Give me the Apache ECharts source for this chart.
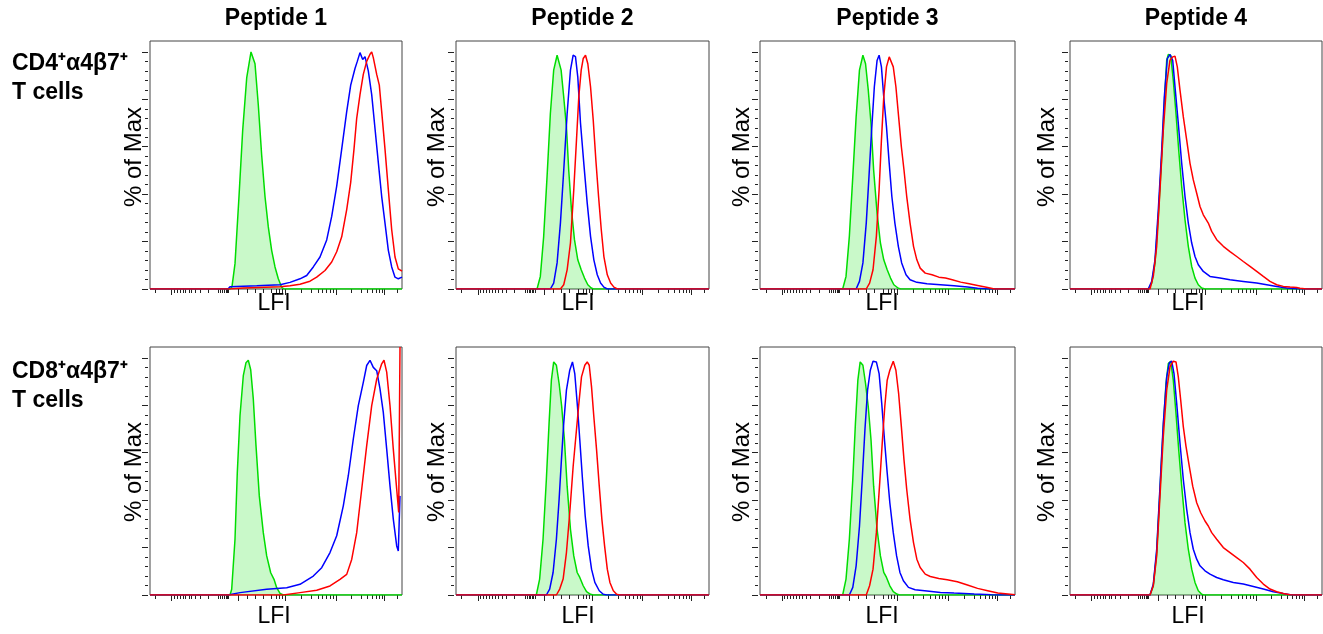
<!DOCTYPE html>
<html>
<head>
<meta charset="utf-8">
<title>Peptide histograms</title>
<script src="https://cdn.jsdelivr.net/npm/echarts@6/dist/echarts.min.js"></script>
<style>
  html, body { margin: 0; padding: 0; background: #fff; }
  #chart { width: 1323px; height: 634px; }
</style>
</head>
<body>
<div id="chart"></div>
<script>
// labels
const peptides = ['Peptide 1', 'Peptide 2', 'Peptide 3', 'Peptide 4']
const rowNames = [['CD4⁺α4β7⁺', 'T cells'], ['CD8⁺α4β7⁺', 'T cells']]
const yName = '% of Max'
const xName = 'LFI'

// axis ticks (x in display channels 0..252, y in % of max)
const xTicksMajor = [21.7, 88, 135.7, 186, 234.3]
const xTicksMinor = [5.7, 24.3, 27.3, 30.3, 33, 35.7, 39, 41.7, 45.7, 50, 58.3, 68.7, 70.7, 72.7,
  74.3, 76, 77.3, 78.7, 97.3, 105, 113.3, 121.7, 126.7, 129.3, 132.3, 151.7, 161.7, 168.3, 172.7,
  176.7, 180.3, 183.3, 201.7, 211.7, 217.7, 222.3, 226.3, 229.3, 232, 247.7]
const yTicksMajor = [0, 20, 40, 60, 80, 100]
const yTicksMinor = [4, 8, 12, 16, 24, 28, 32, 36, 44, 48, 52, 56, 64, 68, 72, 76, 84, 88, 92, 96]

// CD4 row
const cd4Pep1Green = [[0,0],[80,0],[82,1],[85,10.7],[89,39],[92.7,67],[96.7,89],[101,100],[105,95],[108.3,77.6],[111.7,56.3],[115,39],[118.3,26.2],[121.7,16.2],[125,9.3],[128.3,4.3],[131.7,0.7],[134,0],[252,0]]
const cd4Pep1Blue = [[0,0],[78,0],[80,1],[106.7,1.4],[130,1.8],[140,2.8],[150,4.3],[156.7,5.7],[163.3,9.3],[170,13.5],[176.7,20.7],[181.7,30.6],[186.7,43.4],[191.7,59],[196.7,74.8],[200.7,86],[205,93],[207.3,96],[210,99.7],[212.7,96.8],[215,98],[218.3,92],[221.7,82],[225,67.7],[228.3,53.4],[231.7,39],[235,27.8],[238.3,16.4],[241.7,9.3],[245,5],[248.3,4.3],[252,5]]
const cd4Pep1Red = [[0,0],[80,0],[93.3,0.4],[130,1],[140,1.4],[150,2],[160,3.3],[166.7,5],[175,7.8],[181.7,11.4],[186.7,15.7],[191.7,22],[196.7,33.5],[200.7,45],[204,59],[206.7,72],[210,82],[213.3,90.5],[216.7,96],[220,99],[221.7,100],[223.3,97.6],[226.7,90.5],[229.3,86],[231.7,74.8],[235,59],[238.3,42],[241.7,25],[245,13.5],[248.3,8.5],[252,7.5]]

const cd4Pep2Green = [[0,0],[80.7,0],[84,5.3],[87.3,22],[90.7,47.4],[94,74],[97.3,92.3],[100.7,98.6],[102.3,98.6],[104.7,92.3],[107.3,81],[110,68.4],[112.3,50],[115,33.4],[118,20.8],[121.3,12.3],[124.7,8.1],[128,4.6],[131.3,1.8],[134.7,0.4],[137,0],[252,0]]
const cd4Pep2Blue = [[0,0],[94,0],[97.3,2.5],[100.7,11],[104,27.8],[107.3,50],[110.7,74],[114,92.3],[116.7,98.6],[119,98],[121.3,89.5],[124,70],[127.3,53],[130.7,36.2],[134,22.2],[137.3,12.3],[140.7,6],[144,2.5],[147.3,0.8],[150.7,0],[252,0]]
const cd4Pep2Red = [[0,0],[104,0],[107.3,1.8],[110.7,8.1],[114,19.4],[117.3,41.8],[120,62.8],[122.3,81],[124.7,92.3],[126.7,97.2],[129,98.6],[131.3,95],[134,85.3],[136.7,71.2],[139.3,54.4],[142,39],[144.7,25],[147.3,13.7],[150.7,6],[154,2.5],[157.3,0.8],[160.7,0],[252,0]]

const cd4Pep3Green = [[0,0],[81.7,0],[85,5.3],[88.3,22.2],[91.7,47.4],[95,72.6],[98.3,92.3],[101.7,98.6],[104.3,95],[107,83.9],[109.7,69.8],[112.3,50.2],[115.7,32],[119,19.4],[122.3,12.3],[125.7,8.1],[129,4.6],[132.3,1.8],[136.7,0.3],[139,0],[252,0]]
const cd4Pep3Blue = [[0,0],[95,0],[98.3,3.2],[101.7,11],[105,27.8],[107.7,47.4],[110.3,67],[113,85.3],[115.7,96.4],[117.7,98.6],[120,93.7],[122.3,81],[125,68.4],[127.7,53],[130.3,39],[133.3,27.8],[136.7,18],[140,11],[144.3,6],[148.3,3.9],[155,2.8],[165,2.2],[178.3,1.8],[191.7,1.4],[205,0.8],[215,0.3],[225,0],[252,0]]
const cd4Pep3Red = [[0,0],[105,0],[108.3,2.5],[111.7,8.1],[115,22.2],[117.7,41.8],[120,62.8],[122.3,81],[125,93.7],[127.7,97.9],[129,98.6],[131.7,93.7],[134.3,85.3],[137,72.6],[139.7,60],[142.3,50.2],[145,39],[148.3,27.8],[151.7,18],[155,12.3],[158.3,8.8],[163.3,6.7],[170,6],[176.7,5],[183.3,4.6],[190,3.9],[198.3,2.9],[206.7,2.2],[215,1.5],[225,0.6],[231.7,0],[252,0]]

const cd4Pep4Green = [[0,0],[78.3,0],[81.7,2.5],[85,11],[88.3,30.6],[91.7,55.8],[94.3,78.3],[96.7,96.5],[98.3,98.9],[100.7,98.6],[103.3,88],[106,74],[108.7,58.6],[111.7,43.2],[115,29.2],[118.3,18],[121.7,9.5],[125,4.6],[128.3,1.8],[131.7,0.4],[135,0],[252,0]]
const cd4Pep4Blue = [[0,0],[78.3,0],[81.7,3.2],[85,12.3],[88.3,33.4],[91.7,58.6],[94.3,81],[97.3,97.2],[100,98.9],[102.7,96.5],[105.3,83.9],[108.3,69.8],[111.7,53],[115,39],[118.3,27.8],[121.7,19.4],[125,13.7],[128.3,10.2],[133.3,7.4],[140,5.3],[150,4.6],[160,3.9],[173.3,3.2],[186.7,2.5],[196.7,1.8],[206.7,1.1],[216.7,0.4],[226.7,0.1],[235,0],[252,0]]
const cd4Pep4Red = [[0,0],[80,0],[83.3,5.3],[86.7,18],[90,41.8],[93.3,67],[96.7,86.7],[100,96.5],[102.7,97.9],[105,98.2],[107.3,93.7],[110,83.9],[113.3,72.7],[116.7,62.8],[120,53],[123.3,46],[126.7,40.4],[130,34.8],[133.3,31.3],[138.3,27.8],[141.7,24.3],[146.7,20.8],[153.3,18],[160,15.8],[166.7,13.7],[173.3,11.6],[180,9.5],[186.7,7.4],[193.3,5.3],[200,3.2],[206.7,1.8],[213.3,1.1],[220,0.8],[226.7,0.6],[230,0.3],[236.7,0],[252,0]]

// CD8 row
const cd8Pep1Green = [[0,0],[80,0],[81.7,2.4],[85,23.5],[87.3,51.7],[90,75.6],[93.3,92.5],[96,98],[98.3,99],[100.7,95],[103.3,82.7],[106,63],[109.3,41.8],[113.3,26.3],[116.7,16.5],[120.7,9.4],[124,6.6],[126.7,3.1],[130,0.7],[133.3,0],[252,0]]
const cd8Pep1Blue = [[0,0],[78,0],[80,0.7],[90,1],[116.7,2.4],[136.7,3.1],[150,4.5],[163.3,8],[171.7,11.5],[180,17.9],[186.7,25],[193.3,37.6],[198.3,50.3],[203.3,65.8],[208.3,79.9],[213.3,89.7],[216.7,96.8],[220,99],[223.3,96],[226.7,94.6],[230,86.9],[233.3,77],[236.7,61.5],[240,46],[243.3,32],[246.7,20.7],[248.3,18.6],[250,41.8]]
const cd8Pep1Red = [[0,0],[133.3,0],[150,1],[166.7,2],[180,3.8],[190,6.6],[196.7,8.7],[201.7,15],[206.7,26.3],[211.7,44.6],[216.7,63],[221.7,79.9],[226.7,91],[231.7,97.5],[234,99],[236.7,94],[240,79.9],[243.3,61.5],[246.7,44.6],[248.7,34.8],[250,104.6]]

const cd8Pep2Green = [[0,0],[80,0],[83.3,6.7],[86.7,23.5],[90,48.7],[92.7,72.4],[95,90.6],[97.3,98.3],[100,96.9],[102.7,89.2],[105.3,79.4],[108,65.5],[110.7,45.9],[114,27.7],[117.3,16.5],[120.7,9.5],[123.3,7.4],[126.7,3.9],[130,1.4],[134,0.3],[137,0],[252,0]]
const cd8Pep2Blue = [[0,0],[90,0],[93.3,2.5],[96.7,9.5],[100,23.5],[102.7,40.3],[105,57],[107.3,72.4],[110,86.4],[113.3,94.8],[116,98.3],[118.3,93.4],[121,79.4],[123.3,65.5],[126,48.7],[128.7,33.3],[131.7,20.7],[135,10.9],[138.3,5.3],[142.7,1.8],[146.7,0.3],[150,0],[252,0]]
const cd8Pep2Red = [[0,0],[100,0],[103.3,2.5],[106.7,6.7],[110,17.9],[113.3,34.7],[116.7,54.3],[120,69.7],[122.7,82.2],[125,92],[128.3,96.9],[130.7,98.3],[132.7,96.9],[135,87.8],[137.3,75.2],[140,61.3],[142.7,45.9],[145.3,31.9],[148,20.7],[150.7,10.9],[153.3,5.3],[156.7,1.8],[160,0.3],[163,0],[252,0]]

const cd8Pep3Green = [[0,0],[81.7,0],[85,6.7],[88.3,23.5],[91.7,48.7],[94.3,72.4],[96.7,90.6],[99,98.3],[101.7,96.9],[104.3,89.2],[107,79.4],[109.7,65.5],[112.3,45.9],[115.7,27.7],[119,16.5],[122.3,9.5],[125,7.4],[128.3,3.9],[131.7,1.4],[135.7,0.3],[138,0],[252,0]]
const cd8Pep3Blue = [[0,0],[88.3,0],[91.7,3.2],[95,12.3],[98.3,29],[101,48.7],[103.7,69.7],[106.3,86.4],[109,94.8],[111.7,98.6],[115,98.3],[117.7,93.4],[120.3,80.8],[123,65.5],[125.7,51.5],[128.3,38.9],[131.7,26.3],[135,16.5],[138.3,9.5],[141.7,6],[146.7,3.2],[153.3,2.2],[165,1.7],[178.3,1.1],[191.7,0.8],[211.7,0.4],[228.3,0.1],[235,0],[252,0]]
const cd8Pep3Red = [[0,0],[105,0],[108.3,3.9],[111.7,10.9],[115,26.3],[118.3,47.3],[121,65.5],[123.3,79.4],[125.7,90.6],[128.3,94.8],[131.7,98.6],[134.3,94.8],[137,85],[139.7,71],[142.3,57],[145,44.5],[148.3,31.9],[151.7,22.1],[155,15.1],[158.3,11.6],[163.3,8.8],[168.3,7.8],[176.7,7],[185,6.4],[195,5.6],[205,4.2],[215,2.8],[225,1.8],[235,0.8],[245,0.4],[252,0.1]]

const cd8Pep4Green = [[0,0],[80,0],[83.3,3.9],[86.7,17.9],[90,44.5],[93.3,71],[96,89.2],[98.3,97.6],[100.7,98.6],[103.3,90.6],[106,76.6],[108.7,61.3],[111.7,45.9],[115,30.5],[118.3,19.3],[121.7,10.9],[125,5.3],[128.3,1.8],[131.7,0.3],[134,0],[252,0]]
const cd8Pep4Blue = [[0,0],[80,0],[83.3,4.6],[86.7,19.3],[90,45.9],[93.3,72.4],[96.7,92],[99.3,97.9],[101.7,98.6],[104,93.4],[106.7,80.8],[110,64],[113.3,48.7],[116.7,36.1],[120,26.3],[123.3,19.3],[126.7,15.1],[130,12.3],[135,10.2],[140,8.8],[146.7,7.4],[153.3,6.4],[163.3,5.3],[173.3,4.6],[183.3,3.6],[193.3,2.5],[203.3,1.4],[213.3,0.6],[220,0.1],[225,0],[252,0]]
const cd8Pep4Red = [[0,0],[80,0],[83.3,3.9],[86.7,16.5],[90,41.7],[93.3,66.9],[96.7,86.4],[100,96.2],[103.3,98.6],[106,98.3],[108.3,92],[110.7,82.2],[113.3,71],[116,62.7],[119.3,54.3],[122.7,45.9],[126.7,38.9],[130.7,34.7],[135,31.2],[138.3,29.1],[141.7,26.3],[146.7,23.5],[153.3,20],[160,17.9],[166.7,15.8],[173.3,13.7],[180,10.9],[186.7,7.4],[193.3,4.6],[200,2.5],[206.7,1.4],[213.3,0.6],[220,0.1],[226,0],[252,0]]

const rows = [
  [[cd4Pep1Green, cd4Pep1Blue, cd4Pep1Red], [cd4Pep2Green, cd4Pep2Blue, cd4Pep2Red],
   [cd4Pep3Green, cd4Pep3Blue, cd4Pep3Red], [cd4Pep4Green, cd4Pep4Blue, cd4Pep4Red]],
  [[cd8Pep1Green, cd8Pep1Blue, cd8Pep1Red], [cd8Pep2Green, cd8Pep2Blue, cd8Pep2Red],
   [cd8Pep3Green, cd8Pep3Blue, cd8Pep3Red], [cd8Pep4Green, cd8Pep4Blue, cd8Pep4Red]]
]

// layout
const colLeft = [150, 456, 760, 1070]
const colWidth = [252, 253, 255, 252]
const rowTop = [41, 347]
const panelHeight = 248
const yLabelX = [134, 437, 742, 1047]
const yLabelY = [157, 472]
const xLabelX = [274, 578, 882, 1188]
const xLabelY = [304, 617]
const X_MAX = 252
const Y_MAX = 104.6

const FONT = '"Liberation Sans", Arial, Helvetica, sans-serif'
const TICK = '#222'
const curveColors = ['#00dd00', '#0000ff', '#ff0000']

const grid = [], xAxis = [], yAxis = [], series = [], graphic = []

rows.forEach((row, r) => {
  row.forEach((curves, c) => {
    const g = grid.length
    grid.push({
      left: colLeft[c], top: rowTop[r], width: colWidth[c], height: panelHeight,
      show: true, borderColor: '#444', borderWidth: 1, backgroundColor: 'transparent'
    })
    // major and minor x ticks
    ;[[xTicksMajor, 6], [xTicksMinor, 4]].forEach(([vals, len]) => {
      xAxis.push({
        gridIndex: g, type: 'value', min: 0, max: X_MAX, position: 'bottom',
        axisLine: { show: false, onZero: false },
        axisLabel: { show: false, customValues: vals },
        axisTick: { show: true, length: len, customValues: vals, lineStyle: { color: TICK, width: 1 } },
        splitLine: { show: false }
      })
    })
    ;[[yTicksMajor, 6], [yTicksMinor, 3]].forEach(([vals, len]) => {
      yAxis.push({
        gridIndex: g, type: 'value', min: 0, max: Y_MAX, position: 'left', offset: 2,
        axisLine: { show: false, onZero: false },
        axisLabel: { show: false, customValues: vals },
        axisTick: { show: true, length: len, customValues: vals, lineStyle: { color: TICK, width: 1 } },
        splitLine: { show: false }
      })
    })
    curves.forEach((data, k) => {
      series.push({
        type: 'line',
        xAxisIndex: g * 2,
        yAxisIndex: g * 2,
        data: data,
        symbol: 'none',
        smooth: false,
        silent: true,
        clip: true,
        z: 2 + k,
        lineStyle: { color: curveColors[k], width: 1.5 },
        itemStyle: { color: curveColors[k] },
        areaStyle: k === 0 ? { color: 'rgba(0, 225, 0, 0.3)' } : undefined
      })
    })
    graphic.push({
      type: 'text', x: yLabelX[c], y: yLabelY[r], rotation: Math.PI / 2,
      style: { text: yName, font: '24px ' + FONT, fill: '#000', textAlign: 'center', textVerticalAlign: 'middle' }
    })
    graphic.push({
      type: 'text', x: xLabelX[c], y: xLabelY[r],
      style: { text: xName, font: '23px ' + FONT, fill: '#000', textAlign: 'center', textVerticalAlign: 'middle' }
    })
  })
})

peptides.forEach((name, c) => {
  graphic.push({
    type: 'text', x: colLeft[c] + colWidth[c] / 2, y: 19,
    style: { text: name, font: 'bold 23px ' + FONT, fill: '#000', textAlign: 'center', textVerticalAlign: 'middle' }
  })
})

rowNames.forEach((lines, r) => {
  lines.forEach((line, i) => {
    graphic.push({
      type: 'text', x: 12, y: [64, 372][r] + i * 29,
      style: { text: line, font: 'bold 23px ' + FONT, fill: '#000', textAlign: 'left', textVerticalAlign: 'middle' }
    })
  })
})

const chart = echarts.init(document.getElementById('chart'), null, { renderer: 'canvas' })
chart.setOption({
  animation: false,
  backgroundColor: '#fff',
  grid, xAxis, yAxis, series, graphic
})
</script>
</body>
</html>
